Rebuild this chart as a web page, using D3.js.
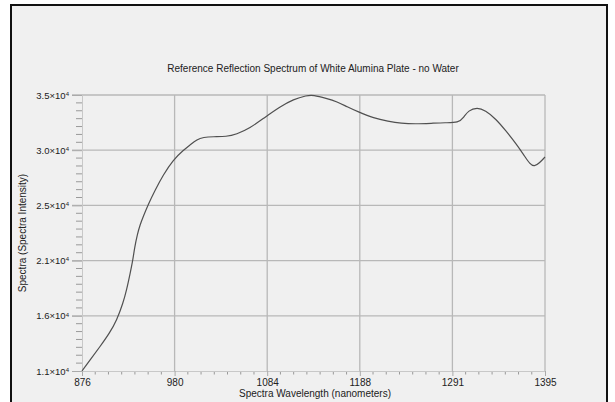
<!DOCTYPE html>
<html>
<head>
<meta charset="utf-8">
<script src="https://cdn.jsdelivr.net/npm/d3@7"></script>
<style>
  html, body { margin: 0; padding: 0; background: #fff; }
  svg { display: block; font-family: "Liberation Sans", Arial, sans-serif; }
</style>
</head>
<body>
<svg id="chart"></svg>
<script>
// wavelength (nm) and intensity
const wavelength = [876, 885, 896, 907, 915, 922, 926, 930, 933, 935, 938, 941, 945, 950, 958, 967, 978,
  990, 997, 1005, 1012, 1023, 1038, 1049, 1064, 1081, 1098, 1113, 1128, 1135, 1150, 1162, 1173,
  1186, 1203, 1219, 1234, 1249, 1268, 1283, 1298, 1304, 1309, 1319, 1328, 1340, 1351, 1363, 1372,
  1378, 1383, 1389, 1395]
const intensity = [11000, 11950, 13100, 14300, 15430, 16900, 18050, 19500, 20650, 21750, 22850, 23700, 24500,
  25450, 26740, 28040, 29350, 30220, 30650, 31150, 31320, 31380, 31380, 31580, 32100, 33060, 33980,
  34630, 34960, 35000, 34710, 34420, 33980, 33520, 32980, 32720, 32540, 32480, 32540, 32600, 32570,
  33070, 33650, 33920, 33660, 32920, 31900, 30720, 29700, 29000, 28760, 29100, 29610]

const xTickValues = [876, 979.8, 1083.6, 1187.4, 1291.2, 1395]
const xTickLabels = ["876", "980", "1084", "1188", "1291", "1395"]
const yTickValues = [11000, 15800, 20600, 25400, 30200, 35000]
const yTickLabels = ["1.1", "1.6", "2.1", "2.5", "3.0", "3.5"]

const width = 615, height = 402
const margin = { left: 82, right: 70, top: 95, bottom: 31 }
const font = "'Liberation Sans', Arial, sans-serif"

const svg = d3.select("#chart")
  .attr("width", width)
  .attr("height", height)

// frame
svg.append("rect")
  .attr("x", 11).attr("y", 5)
  .attr("width", 596).attr("height", 410)
  .attr("fill", "#f0f0f0")
  .attr("stroke", "#111")
  .attr("stroke-width", 2)

const x = d3.scaleLinear()
  .domain([876, 1395])
  .range([margin.left, width - margin.right])

const y = d3.scaleLinear()
  .domain([11000, 35000])
  .range([height - margin.bottom, margin.top])

// grid
svg.append("g").selectAll("line")
  .data(xTickValues.slice(1))
  .enter().append("line")
  .attr("x1", d => x(d)).attr("x2", d => x(d))
  .attr("y1", y(11000)).attr("y2", y(35000))
  .attr("stroke", "#b8b8b8")
  .attr("stroke-width", 1.3)

svg.append("g").selectAll("line")
  .data(yTickValues.slice(1))
  .enter().append("line")
  .attr("x1", x(876) - 10).attr("x2", x(1395))
  .attr("y1", d => y(d)).attr("y2", d => y(d))
  .attr("stroke", "#b8b8b8")
  .attr("stroke-width", 1.3)

// minor ticks, 6 between each pair of majors
const minorX = [], minorY = []
for (let i = 0; i < xTickValues.length - 1; i++) {
  const a = xTickValues[i], b = xTickValues[i + 1]
  for (let k = 1; k < 7; k++) minorX.push(a + (b - a) * k / 7)
}
for (let i = 0; i < yTickValues.length - 1; i++) {
  const a = yTickValues[i], b = yTickValues[i + 1]
  for (let k = 1; k < 7; k++) minorY.push(a + (b - a) * k / 7)
}

const xAxis = svg.append("g")
  .attr("transform", `translate(0,${y(11000)})`)
  .call(d3.axisBottom(x).tickValues(xTickValues).tickSize(5).tickPadding(3)
    .tickFormat((d, i) => xTickLabels[i]))
xAxis.select(".domain").attr("stroke", "#c8c8c8")
xAxis.selectAll(".tick line").attr("stroke", "#aaa")
xAxis.selectAll("text")
  .attr("fill", "#222")
  .style("font-size", "10px")
  .style("font-family", font)

svg.append("g").selectAll("line")
  .data(minorX)
  .enter().append("line")
  .attr("x1", d => x(d)).attr("x2", d => x(d))
  .attr("y1", y(11000) + 1).attr("y2", y(11000) + 3.5)
  .attr("stroke", "#999")

const yAxis = svg.append("g")
  .attr("transform", `translate(${margin.left},0)`)
  .call(d3.axisLeft(y).tickValues(yTickValues).tickSize(10).tickPadding(3)
    .tickFormat(() => ""))
yAxis.select(".domain").attr("stroke", "#c8c8c8")
yAxis.selectAll(".tick line").attr("stroke", "#aaa")
yAxis.selectAll(".tick text").each(function (d, i) {
  const t = d3.select(this)
    .attr("fill", "#222")
    .style("font-size", "9.5px")
    .style("font-family", font)
  t.append("tspan").text(yTickLabels[i] + "\u00d710")
  t.append("tspan").text("4").attr("dy", "-0.45em").style("font-size", "6px")
})

svg.append("g").selectAll("line")
  .data(minorY)
  .enter().append("line")
  .attr("x1", margin.left - 6).attr("x2", margin.left)
  .attr("y1", d => y(d)).attr("y2", d => y(d))
  .attr("stroke", "#999")

// the spectrum
const line = d3.line()
  .x((d, i) => x(wavelength[i]))
  .y(d => y(d))
  .curve(d3.curveBasis)

svg.append("path")
  .datum(intensity)
  .attr("d", line)
  .attr("fill", "none")
  .attr("stroke", "#505050")
  .attr("stroke-width", 1.2)

// titles
svg.append("text")
  .attr("x", 313).attr("y", 72)
  .attr("text-anchor", "middle")
  .attr("fill", "#222")
  .style("font-size", "10px")
  .text("Reference Reflection Spectrum of White Alumina Plate - no Water")

svg.append("text")
  .attr("x", 315).attr("y", 397)
  .attr("text-anchor", "middle")
  .attr("fill", "#222")
  .style("font-size", "10px")
  .text("Spectra Wavelength (nanometers)")

svg.append("text")
  .attr("transform", "translate(26,233) rotate(-90)")
  .attr("text-anchor", "middle")
  .attr("fill", "#222")
  .style("font-size", "10px")
  .text("Spectra (Spectra Intensity)")
</script>
</body>
</html>
